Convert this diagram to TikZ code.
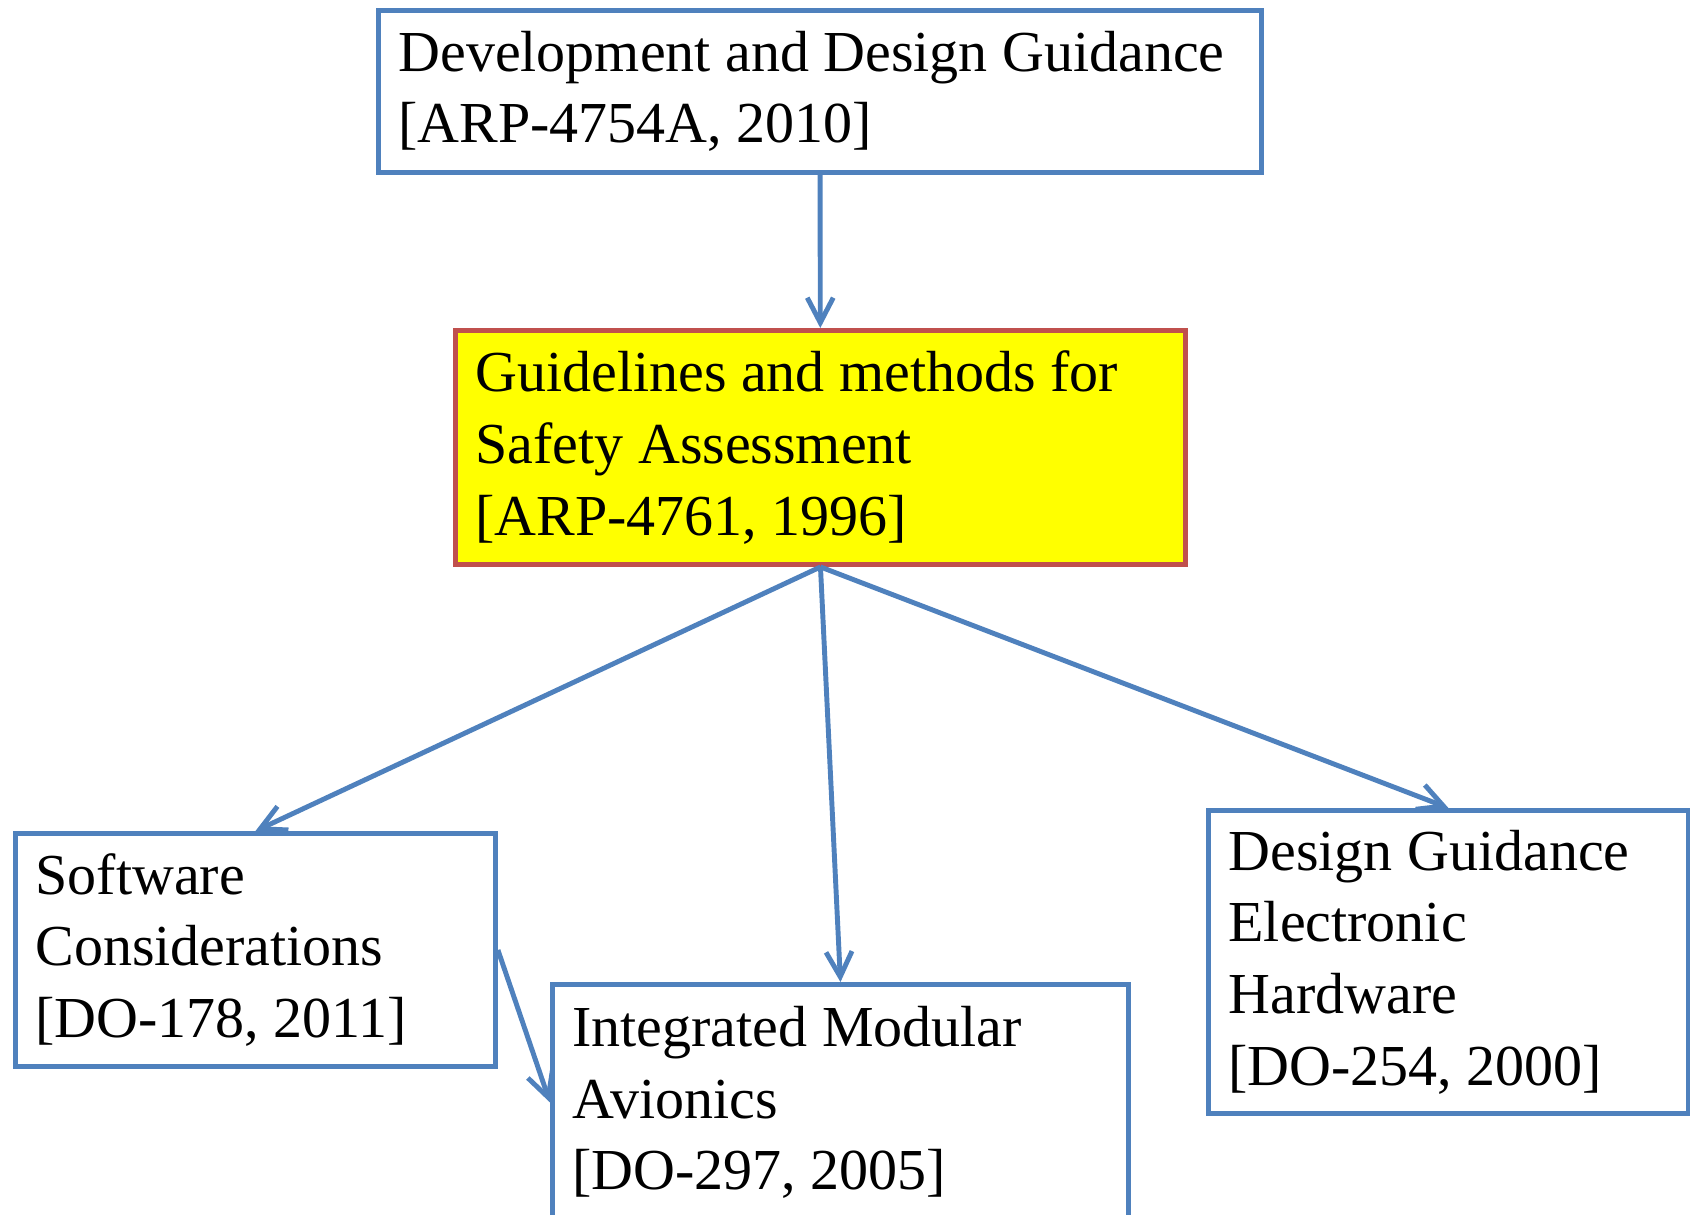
\documentclass[tikz,border=0pt]{standalone}
\usepackage{fontspec}
\setmainfont{Liberation Serif}
\usetikzlibrary{arrows.meta}
\definecolor{boxblue}{HTML}{4F81BD}
\definecolor{boxred}{HTML}{C0504D}
\definecolor{boxyellow}{HTML}{FFFF00}
\begin{document}
\begin{tikzpicture}[>={Straight Barb[length=2.5mm,width=2.6mm]},
  docbox/.style={draw=boxblue, line width=1.4pt, anchor=north west, align=flush left,
    inner xsep=0.2cm, inner ysep=0pt, font=\fontsize{16.5}{20.4}\selectfont},
  link/.style={->, draw=boxblue, line width=1.4pt}]
\clip (0,0) rectangle (16.9,-12.14);
\node[docbox, text width=8.43cm, minimum height=1.62cm] (dev) at (3.76,-0.08) {Development and Design Guidance\\{}[ARP-4754A, 2010]};
\node[docbox, draw=boxred, fill=boxyellow, text width=6.9cm, minimum height=2.34cm] (safety) at (4.53,-3.28) {Guidelines and methods for\\Safety Assessment\\{}[ARP-4761, 1996]};
\node[docbox, text width=4.4cm, minimum height=2.33cm] (sw) at (0.13,-8.31) {Software\\Considerations\\{}[DO-178, 2011]};
\node[docbox, text width=5.36cm, minimum height=2.36cm] (ima) at (5.50,-9.82) {Integrated Modular\\Avionics\\{}[DO-297, 2005]};
\node[docbox, text width=4.4cm, minimum height=3.03cm] (hw) at (12.06,-8.08) {Design Guidance\\Electronic\\Hardware\\{}[DO-254, 2000]};
\draw[link] (dev) -- (safety);
\draw[link] (safety.south) -- (sw.north);
\draw[link] (safety.south) -- (ima.north);
\draw[link] (safety.south) -- (hw.north);
\draw[link] (sw.east) -- (ima.west);
\end{tikzpicture}
\end{document}
